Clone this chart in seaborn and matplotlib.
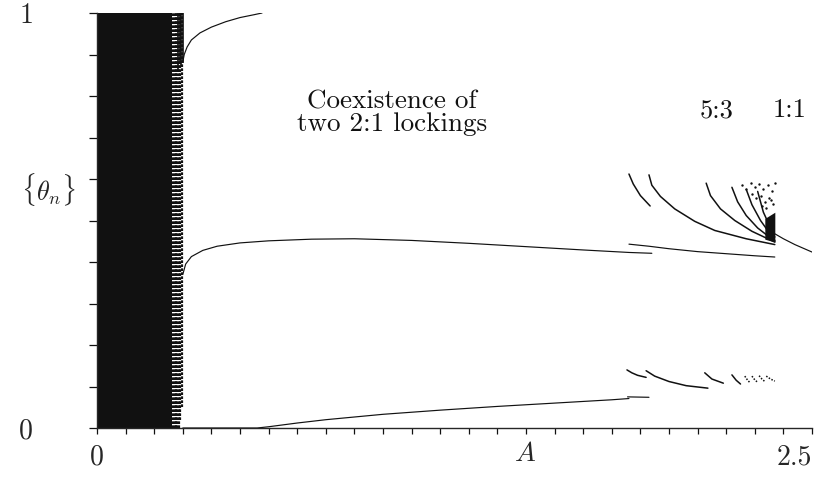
import matplotlib
matplotlib.use("Agg")
import matplotlib.pyplot as plt
import seaborn as sns
import pandas as pd
import numpy as np

# ---------------- data ----------------
# chaotic band (filled) and sparse stripes at its right edge
chaos_A = [0.0, 0.262]
chaos_lo = [0.0, 0.0]
chaos_hi = [1.0, 1.0]
stripe_A = [0.266, 0.271, 0.276, 0.281, 0.286, 0.291, 0.296]
stripe_lo = [0.00, 0.00, 0.00, 0.00, 0.00, 0.02, 0.05]
stripe_hi = [1.00, 1.00, 1.00, 1.00, 1.00, 1.00, 1.00]
top_stripe_A = [0.284, 0.289, 0.294, 0.299]
top_stripe_lo = [0.86, 0.88, 0.87, 0.88]
top_stripe_hi = [1.0, 1.0, 1.0, 1.0]

# upper 2:1 branch
upper_A = [0.300, 0.305, 0.315, 0.33, 0.36, 0.40, 0.45, 0.50, 0.55, 0.577]
upper_theta = [0.882, 0.900, 0.918, 0.935, 0.952, 0.966, 0.979, 0.989, 0.996, 1.0]

# middle branch
mid_A = [0.300, 0.31, 0.33, 0.37, 0.42, 0.50, 0.60, 0.75, 0.90, 1.10, 1.30, 1.50, 1.70, 1.86, 1.94]
mid_theta = [0.370, 0.395, 0.413, 0.428, 0.438, 0.446, 0.451, 0.455, 0.456, 0.452, 0.445, 0.437, 0.429, 0.423, 0.421]
mid2_A = [1.86, 1.93, 2.00, 2.10, 2.20, 2.30, 2.37]
mid2_theta = [0.443, 0.438, 0.432, 0.425, 0.420, 0.415, 0.412]

# 1:1 branch
one_A = [2.365, 2.40, 2.44, 2.48, 2.50]
one_theta = [0.470, 0.456, 0.442, 0.430, 0.424]

# lower branch
low_A = [0.30, 0.56, 0.60, 0.70, 0.80, 1.00, 1.20, 1.40, 1.60, 1.80, 1.86]
low_theta = [0.0, 0.0, 0.003, 0.012, 0.020, 0.033, 0.043, 0.052, 0.060, 0.068, 0.071]
lowfrag_A = [1.855, 1.93]
lowfrag_theta = [0.075, 0.074]

# upper arcs of the 5:3 window
upper_arcs = {
    "u1": ([1.86, 1.875, 1.90, 1.934], [0.612, 0.588, 0.560, 0.535]),
    "u2": ([1.93, 1.94, 1.97, 2.02, 2.09, 2.16, 2.27, 2.37], [0.610, 0.585, 0.558, 0.528, 0.498, 0.476, 0.456, 0.442]),
    "u3": ([2.13, 2.145, 2.18, 2.23, 2.29, 2.37], [0.590, 0.560, 0.528, 0.500, 0.474, 0.448]),
    "u4": ([2.22, 2.24, 2.27, 2.31, 2.37], [0.580, 0.545, 0.512, 0.482, 0.450]),
    "u5": ([2.27, 2.29, 2.32, 2.37], [0.575, 0.538, 0.500, 0.452]),
    "u6": ([2.31, 2.33, 2.37], [0.570, 0.520, 0.460]),
}
block_A = [2.335, 2.37]
block_lo = [0.455, 0.448]
block_hi = [0.505, 0.520]
dots_A = [2.255, 2.27, 2.285, 2.29, 2.30, 2.305, 2.315, 2.32, 2.33, 2.335, 2.345, 2.35, 2.36, 2.365, 2.37, 2.34, 2.325, 2.355]
dots_theta = [0.585, 0.575, 0.590, 0.565, 0.580, 0.555, 0.588, 0.560, 0.575, 0.545, 0.585, 0.555, 0.570, 0.540, 0.590, 0.530, 0.535, 0.550]

# lower arcs of the 5:3 window
lower_arcs = {
    "l1": ([1.853, 1.87, 1.89, 1.92], [0.140, 0.133, 0.127, 0.122]),
    "l2": ([1.92, 1.95, 2.00, 2.06, 2.136], [0.138, 0.125, 0.112, 0.102, 0.096]),
    "l3": ([2.125, 2.15, 2.19], [0.133, 0.118, 0.108]),
    "l4": ([2.22, 2.235, 2.25], [0.128, 0.115, 0.106]),
}
lower_dotted = {
    "d1": ([2.265, 2.275, 2.285], [0.125, 0.115, 0.108]),
    "d2": ([2.29, 2.30, 2.31], [0.125, 0.116, 0.110]),
    "d3": ([2.315, 2.325, 2.335], [0.126, 0.118, 0.112]),
    "d4": ([2.34, 2.355, 2.37], [0.125, 0.118, 0.113]),
}

# ---------------- figure ----------------
sns.set_style("ticks")
plt.rcParams["font.family"] = ["cmr10", "DejaVu Serif"]
plt.rcParams["mathtext.fontset"] = "cm"
plt.rcParams["axes.formatter.use_mathtext"] = True

fig = plt.figure(figsize=(8.15, 4.78), dpi=100)
ax = fig.add_axes([97 / 815, 50 / 478, 715 / 815, 415 / 478])

K = "#111111"
LW = 0.85

def line(xs, ys, lw=LW, ls="-"):
    df = pd.DataFrame({"A": xs, "theta": ys})
    sns.lineplot(data=df, x="A", y="theta", sort=False, estimator=None,
                 color=K, lw=lw, linestyle=ls, ax=ax)

# chaotic band
ax.fill_between(chaos_A, chaos_lo, chaos_hi, color=K, lw=0)
ax.vlines(stripe_A, stripe_lo, stripe_hi, colors=K, lw=1.6, linestyles=(0, (1.2, 0.6)))
ax.vlines(top_stripe_A, top_stripe_lo, top_stripe_hi, colors=K, lw=1.2)

line(upper_A, upper_theta)
line(mid_A, mid_theta)
line(mid2_A, mid2_theta)
line(one_A, one_theta)
line(low_A, low_theta)
line(lowfrag_A, lowfrag_theta)
for xs, ys in upper_arcs.values():
    line(xs, ys, lw=1.1)
for xs, ys in lower_arcs.values():
    line(xs, ys, lw=1.1)
for xs, ys in lower_dotted.values():
    line(xs, ys, lw=1.1, ls=(0, (1, 1)))
ax.fill_between(block_A, block_lo, block_hi, color=K, lw=0)
sns.scatterplot(x=dots_A, y=dots_theta, s=3, color=K, linewidth=0, ax=ax)

# ---------------- axes styling ----------------
ax.set_xlim(0, 2.5)
ax.set_ylim(0, 1)
for s in ["top", "right"]:
    ax.spines[s].set_visible(False)
ax.spines["left"].set_linewidth(1.0)
ax.spines["bottom"].set_linewidth(1.0)

ax.set_xticks([0, 2.5])
ax.set_xticklabels(["0", "2.5"])
ax.set_xticks(np.arange(0.1, 2.45, 0.1), minor=True)
ax.set_yticks([0, 1])
ax.set_yticklabels(["0", "1"])
ax.set_yticks(np.arange(0.1, 0.95, 0.1), minor=True)

ax.tick_params(axis="x", which="both", direction="out", length=4, width=0.9,
               labelsize=20, pad=8, color=K)
ax.tick_params(axis="y", which="both", direction="out", length=6, width=0.9,
               labelsize=20, pad=40, color=K)
xl = ax.get_xticklabels()
xl[-1].set_ha("right")

ax.set_xlabel(r"$A$", fontsize=20)
ax.xaxis.set_label_coords(0.599, -0.062)
ax.xaxis.label.set_va("center")
ax.set_ylabel(r"$\{\theta_n\}$", fontsize=19, rotation=0)
ax.yaxis.set_label_coords(-0.068, 0.575)
ax.yaxis.label.set_va("center")
ax.yaxis.label.set_ha("center")

ax.text(1.03, 0.76, "Coexistence of\ntwo 2:1 lockings", ha="center", va="center",
        fontsize=19.5, linespacing=0.92, color=K)
ax.text(2.168, 0.765, "5:3", ha="center", va="center", fontsize=19, color=K)
ax.text(2.423, 0.765, "1:1", ha="center", va="center", fontsize=19, color=K)

fig.savefig("out.png", dpi=100, facecolor="white")
